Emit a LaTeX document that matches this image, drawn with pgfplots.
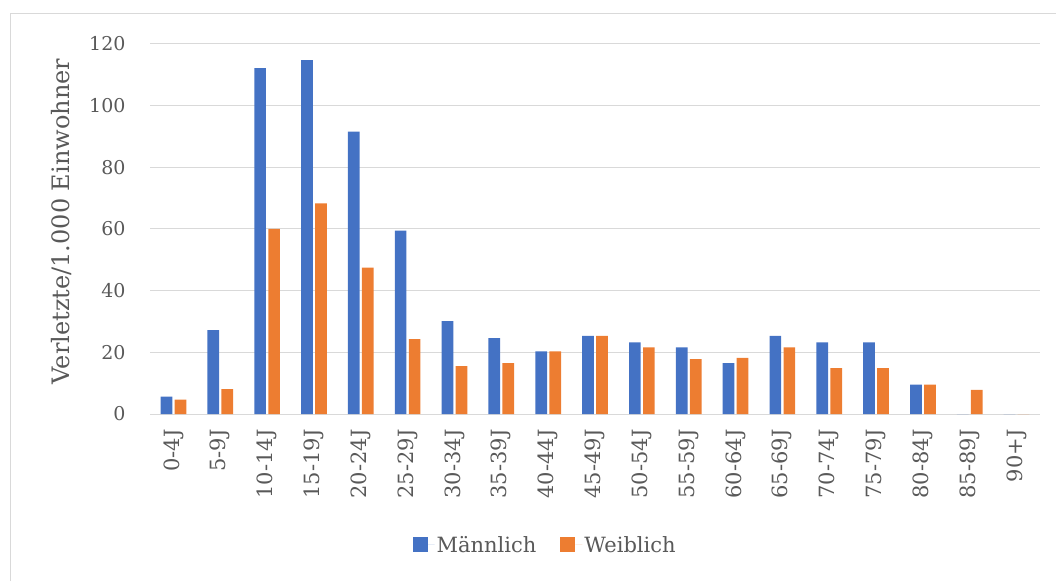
\documentclass[border=0pt]{standalone}
\usepackage{pgfplots}
\pgfplotsset{compat=1.18}
\usepackage{fontspec}
\setmainfont{DejaVu Serif}
\definecolor{cblue}{HTML}{4472C4}
\definecolor{corange}{HTML}{ED7D31}
\definecolor{cgrid}{HTML}{D9D9D9}
\definecolor{ctext}{HTML}{595959}
\begin{document}
\begin{tikzpicture}
\useasboundingbox (0pt,0pt) rectangle (1056pt,581pt);
\draw[cgrid, line width=1pt] (10pt,0pt) -- (10pt,567pt) -- (1056pt,567pt);
\begin{axis}[
  at={(150pt,167pt)}, anchor=south west,
  scale only axis, width=890pt, height=370pt,
  ybar, bar width=11.7pt,
  xmin=-0.5, xmax=18.5, ymin=0, ymax=120,
  ytick={0,20,...,120},
  xtick={0,...,18},
  xticklabels={0-4J,5-9J,10-14J,15-19J,20-24J,25-29J,30-34J,35-39J,40-44J,45-49J,50-54J,55-59J,60-64J,65-69J,70-74J,75-79J,80-84J,85-89J,90+J},
  /pgf/number format/assume math mode=true,
  major tick length=0pt,
  axis line style={draw=none},
  ymajorgrids, grid style={cgrid, line width=1pt},
  tick label style={color=ctext},
  yticklabel style={font=\fontsize{19}{22}\selectfont},
  xticklabel style={rotate=90, anchor=east, font=\fontsize{21}{24}\selectfont},
  xticklabel shift=12pt,
  yticklabel shift=21pt,
  ylabel={Verletzte/1.000 Einwohner},
  ylabel style={at={(axis description cs:-0.099,0.52)}, anchor=center, font=\fontsize{24}{28}\selectfont, color=ctext},
  legend style={at={(0.444,-0.354)}, anchor=center, draw=none, legend columns=2,
    font=\fontsize{21}{25}\selectfont, text=ctext,
    /tikz/every even column/.append style={column sep=22pt}},
  legend image code/.code={\fill[#1,draw=none] (0pt,-7.5pt) rectangle (15pt,7.5pt); \path (15pt,0pt) -- (22pt,0pt);},
]
\addplot[fill=cblue, draw=none, bar shift=-7pt] coordinates {
(0,5.6) (1,27.2) (2,112.2) (3,114.8) (4,91.6) (5,59.5) (6,30.1) (7,24.6) (8,20.3) (9,25.3)
(10,23.2) (11,21.6) (12,16.5) (13,25.3) (14,23.2) (15,23.2) (16,9.5) (17,0) (18,0)};
\addlegendentry{Männlich}
\addplot[fill=corange, draw=none, bar shift=7pt] coordinates {
(0,4.7) (1,8.1) (2,60.0) (3,68.3) (4,47.5) (5,24.3) (6,15.5) (7,16.5) (8,20.3) (9,25.3)
(10,21.6) (11,17.8) (12,18.2) (13,21.6) (14,14.9) (15,14.9) (16,9.5) (17,7.8) (18,0)};
\addlegendentry{Weiblich}
\end{axis}
\end{tikzpicture}
\end{document}
